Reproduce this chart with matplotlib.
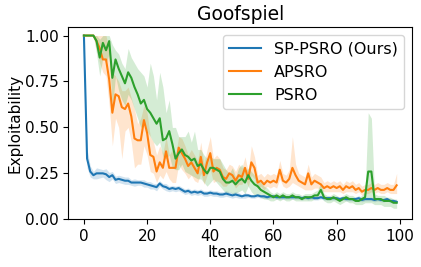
import numpy as np
import matplotlib
matplotlib.use("Agg")
import matplotlib.pyplot as plt

# Iterations 0..99
iterations = np.arange(100)

# SP-PSRO (Ours) mean and half-width of the shaded band
sp_psro = [
    1.0, 0.33, 0.26, 0.24, 0.25, 0.25, 0.25, 0.245, 0.23, 0.24,
    0.215, 0.22, 0.215, 0.21, 0.21, 0.2, 0.2, 0.2, 0.2, 0.195,
    0.19, 0.185, 0.18, 0.175, 0.195, 0.18, 0.175, 0.165, 0.17, 0.165,
    0.17, 0.16, 0.15, 0.155, 0.145, 0.15, 0.145, 0.15, 0.14, 0.14,
    0.145, 0.14, 0.14, 0.135, 0.135, 0.14, 0.135, 0.13, 0.135, 0.13,
    0.125, 0.13, 0.13, 0.125, 0.125, 0.13, 0.125, 0.125, 0.12, 0.125,
    0.125, 0.12, 0.12, 0.12, 0.12, 0.12, 0.12, 0.12, 0.12, 0.115,
    0.12, 0.115, 0.12, 0.115, 0.115, 0.12, 0.115, 0.115, 0.115, 0.115,
    0.115, 0.11, 0.115, 0.11, 0.11, 0.11, 0.11, 0.115, 0.105, 0.11,
    0.11, 0.11, 0.105, 0.11, 0.105, 0.105, 0.11, 0.1, 0.1, 0.095,
]
sp_psro_err = [
    0.0, 0.05, 0.03, 0.02, 0.03, 0.025, 0.02, 0.03, 0.025, 0.02,
    0.02, 0.02, 0.02, 0.02, 0.02, 0.015, 0.02, 0.015, 0.015, 0.02,
    0.015, 0.02, 0.015, 0.02, 0.015, 0.015, 0.02, 0.015, 0.015, 0.015,
    0.015, 0.015, 0.015, 0.015, 0.015, 0.015, 0.015, 0.015, 0.015, 0.015,
    0.015, 0.015, 0.015, 0.015, 0.015, 0.015, 0.015, 0.015, 0.015, 0.015,
    0.01, 0.015, 0.01, 0.01, 0.01, 0.01, 0.01, 0.01, 0.01, 0.01,
    0.01, 0.01, 0.01, 0.01, 0.01, 0.01, 0.01, 0.01, 0.01, 0.01,
    0.01, 0.01, 0.01, 0.01, 0.01, 0.01, 0.01, 0.01, 0.01, 0.01,
    0.01, 0.01, 0.01, 0.01, 0.01, 0.01, 0.01, 0.015, 0.01, 0.01,
    0.01, 0.01, 0.01, 0.01, 0.01, 0.01, 0.01, 0.01, 0.01, 0.01,
]

# APSRO mean, lower and upper band
apsro = [
    1.0, 1.0, 1.0, 1.0, 0.97, 0.93, 0.87, 0.87, 0.76, 0.58,
    0.68, 0.67, 0.61, 0.60, 0.63, 0.56, 0.44, 0.43, 0.43, 0.54,
    0.47, 0.35, 0.34, 0.26, 0.31, 0.28, 0.37, 0.28, 0.28, 0.28,
    0.39, 0.36, 0.33, 0.29, 0.31, 0.28, 0.25, 0.34, 0.24, 0.31,
    0.36, 0.26, 0.28, 0.27, 0.23, 0.22, 0.25, 0.24, 0.21, 0.24,
    0.23, 0.28, 0.22, 0.31, 0.28, 0.20, 0.21, 0.19, 0.21, 0.20,
    0.21, 0.20, 0.27, 0.21, 0.20, 0.22, 0.28, 0.24, 0.21, 0.20,
    0.19, 0.25, 0.19, 0.21, 0.20, 0.19, 0.17, 0.18, 0.17, 0.18,
    0.17, 0.18, 0.16, 0.18, 0.17, 0.18, 0.16, 0.17, 0.15, 0.16,
    0.16, 0.17, 0.16, 0.17, 0.16, 0.16, 0.17, 0.16, 0.16, 0.185,
]
apsro_lo = [
    1.0, 1.0, 1.0, 1.0, 0.92, 0.85, 0.8, 0.78, 0.62, 0.40,
    0.55, 0.5, 0.33, 0.48, 0.5, 0.42, 0.28, 0.30, 0.30, 0.40,
    0.35, 0.26, 0.25, 0.20, 0.24, 0.22, 0.26, 0.22, 0.20, 0.20,
    0.30, 0.27, 0.25, 0.22, 0.24, 0.21, 0.20, 0.25, 0.19, 0.24,
    0.27, 0.20, 0.21, 0.20, 0.18, 0.18, 0.20, 0.20, 0.17, 0.19,
    0.19, 0.22, 0.18, 0.24, 0.22, 0.17, 0.18, 0.16, 0.18, 0.17,
    0.18, 0.17, 0.22, 0.18, 0.17, 0.18, 0.20, 0.19, 0.18, 0.17,
    0.16, 0.16, 0.16, 0.17, 0.17, 0.16, 0.15, 0.15, 0.15, 0.15,
    0.15, 0.15, 0.14, 0.15, 0.15, 0.15, 0.14, 0.15, 0.13, 0.14,
    0.14, 0.15, 0.14, 0.15, 0.14, 0.14, 0.15, 0.14, 0.14, 0.14,
]
apsro_hi = [
    1.0, 1.0, 1.0, 1.0, 1.0, 1.0, 1.0, 1.0, 0.92, 0.80,
    0.78, 0.75, 0.70, 0.70, 0.72, 0.66, 0.60, 0.52, 0.55, 0.62,
    0.58, 0.45, 0.42, 0.35, 0.40, 0.36, 0.45, 0.35, 0.38, 0.35,
    0.45, 0.44, 0.40, 0.35, 0.38, 0.35, 0.32, 0.42, 0.30, 0.38,
    0.45, 0.33, 0.35, 0.33, 0.28, 0.27, 0.30, 0.29, 0.26, 0.30,
    0.28, 0.34, 0.26, 0.40, 0.34, 0.24, 0.25, 0.23, 0.25, 0.24,
    0.25, 0.24, 0.32, 0.25, 0.24, 0.27, 0.45, 0.30, 0.25, 0.24,
    0.23, 0.30, 0.23, 0.25, 0.24, 0.23, 0.20, 0.21, 0.20, 0.21,
    0.20, 0.21, 0.19, 0.21, 0.20, 0.21, 0.19, 0.20, 0.18, 0.19,
    0.19, 0.20, 0.19, 0.20, 0.19, 0.19, 0.20, 0.19, 0.19, 0.25,
]

# PSRO mean, lower and upper band
psro = [
    1.0, 1.0, 1.0, 1.0, 0.97, 0.88, 0.96, 0.92, 0.97, 0.77,
    0.87, 0.82, 0.78, 0.74, 0.80, 0.77, 0.72, 0.68, 0.63, 0.65,
    0.60, 0.58, 0.55, 0.52, 0.55, 0.43, 0.44, 0.48, 0.41, 0.33,
    0.36, 0.38, 0.35, 0.34, 0.32, 0.33, 0.29, 0.30, 0.27, 0.25,
    0.28, 0.28, 0.27, 0.26, 0.22, 0.20, 0.20, 0.21, 0.19, 0.21,
    0.22, 0.20, 0.24, 0.21, 0.19, 0.18, 0.16, 0.15, 0.14, 0.13,
    0.12, 0.13, 0.12, 0.13, 0.12, 0.12, 0.13, 0.12, 0.12, 0.11,
    0.12, 0.12, 0.12, 0.13, 0.13, 0.16, 0.12, 0.11, 0.11, 0.12,
    0.11, 0.10, 0.11, 0.12, 0.11, 0.11, 0.10, 0.10, 0.11, 0.12,
    0.26, 0.26, 0.11, 0.11, 0.11, 0.10, 0.10, 0.10, 0.09, 0.09,
]
psro_lo = [
    1.0, 1.0, 1.0, 1.0, 0.90, 0.78, 0.88, 0.85, 0.90, 0.60,
    0.78, 0.70, 0.65, 0.62, 0.68, 0.65, 0.60, 0.55, 0.50, 0.52,
    0.48, 0.45, 0.42, 0.40, 0.42, 0.34, 0.33, 0.35, 0.28, 0.27,
    0.27, 0.30, 0.26, 0.25, 0.24, 0.23, 0.22, 0.22, 0.20, 0.18,
    0.20, 0.22, 0.20, 0.18, 0.16, 0.14, 0.15, 0.14, 0.14, 0.15,
    0.16, 0.14, 0.18, 0.15, 0.13, 0.13, 0.12, 0.11, 0.11, 0.10,
    0.10, 0.11, 0.10, 0.11, 0.10, 0.10, 0.11, 0.10, 0.10, 0.10,
    0.10, 0.10, 0.10, 0.11, 0.11, 0.12, 0.10, 0.09, 0.09, 0.10,
    0.09, 0.08, 0.09, 0.10, 0.09, 0.09, 0.08, 0.08, 0.08, 0.09,
    0.09, 0.09, 0.08, 0.08, 0.08, 0.07, 0.07, 0.07, 0.06, 0.06,
]
psro_hi = [
    1.0, 1.0, 1.0, 1.0, 1.0, 0.98, 1.0, 1.0, 1.0, 0.95,
    0.92, 0.90, 0.85, 0.82, 0.93, 0.88, 0.85, 0.82, 0.80, 0.78,
    0.72, 0.85, 0.78, 0.65, 0.80, 0.72, 0.58, 0.65, 0.50, 0.50,
    0.45, 0.45, 0.45, 0.48, 0.42, 0.48, 0.38, 0.38, 0.35, 0.33,
    0.34, 0.33, 0.33, 0.33, 0.30, 0.27, 0.25, 0.28, 0.23, 0.28,
    0.30, 0.26, 0.28, 0.26, 0.24, 0.22, 0.20, 0.18, 0.17, 0.15,
    0.14, 0.15, 0.14, 0.15, 0.14, 0.14, 0.15, 0.14, 0.14, 0.13,
    0.14, 0.14, 0.14, 0.15, 0.16, 0.20, 0.14, 0.13, 0.13, 0.14,
    0.13, 0.12, 0.13, 0.14, 0.13, 0.13, 0.12, 0.12, 0.13, 0.15,
    0.58, 0.55, 0.14, 0.13, 0.13, 0.13, 0.12, 0.12, 0.11, 0.11,
]


def main():
    fig = plt.figure(figsize=(4.21, 2.67), dpi=100)
    ax = fig.add_axes([0.1622, 0.1787, 0.8171, 0.7191])

    sp = np.array(sp_psro)
    sp_err = np.array(sp_psro_err)
    ax.plot(iterations, sp, color="tab:blue", lw=1.5, label="SP-PSRO (Ours)")
    ax.fill_between(iterations, sp - sp_err, sp + sp_err,
                    color="tab:blue", alpha=0.2, lw=0)

    ax.plot(iterations, apsro, color="tab:orange", lw=1.5, label="APSRO")
    ax.fill_between(iterations, apsro_lo, apsro_hi,
                    color="tab:orange", alpha=0.2, lw=0)

    ax.plot(iterations, psro, color="tab:green", lw=1.5, label="PSRO")
    ax.fill_between(iterations, psro_lo, psro_hi,
                    color="tab:green", alpha=0.2, lw=0)

    ax.set_ylim(0, 1.045)
    ax.set_yticks([0.0, 0.25, 0.5, 0.75, 1.0])
    ax.set_xticks([0, 20, 40, 60, 80, 100])
    ax.tick_params(labelsize=11)
    ax.set_xlabel("Iteration", fontsize=11, labelpad=1)
    ax.set_ylabel("Exploitability", fontsize=11, labelpad=2)
    ax.set_title("Goofspiel", fontsize=13.5, pad=5)
    ax.legend(loc="upper right", fontsize=11.5)

    fig.savefig("out.png", dpi=100)


if __name__ == "__main__":
    main()
